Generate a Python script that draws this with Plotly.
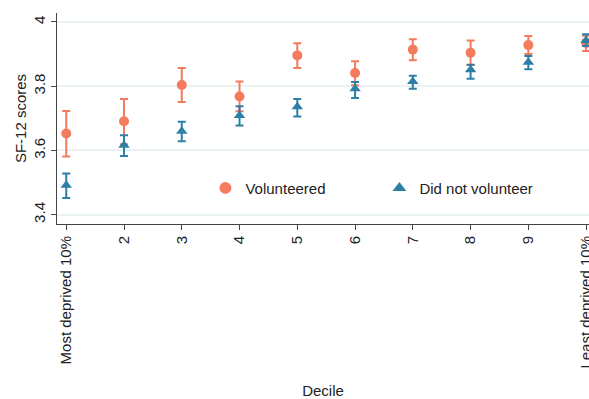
import plotly.graph_objects as go

deciles = [1, 2, 3, 4, 5, 6, 7, 8, 9, 10]
tick_labels = ["Most deprived 10%", "2", "3", "4", "5", "6", "7", "8", "9", "Least deprived 10%"]

vol_mean = [3.653, 3.691, 3.804, 3.768, 3.896, 3.841, 3.914, 3.904, 3.928, 3.935]
vol_hi = [3.723, 3.760, 3.857, 3.815, 3.934, 3.878, 3.946, 3.942, 3.956, 3.957]
vol_lo = [3.581, 3.619, 3.751, 3.722, 3.857, 3.803, 3.881, 3.866, 3.900, 3.910]

non_mean = [3.492, 3.616, 3.660, 3.709, 3.736, 3.792, 3.815, 3.851, 3.875, 3.942]
non_hi = [3.528, 3.647, 3.689, 3.738, 3.760, 3.813, 3.833, 3.867, 3.894, 3.962]
non_lo = [3.452, 3.583, 3.629, 3.678, 3.706, 3.763, 3.792, 3.823, 3.853, 3.925]

ORANGE = "#F47B5E"
BLUE = "#2D7FA6"
FONT = "Liberation Sans, Arial, sans-serif"


def err(mean, hi, lo):
    return dict(
        type="data",
        symmetric=False,
        array=[h - m for h, m in zip(hi, mean)],
        arrayminus=[m - l for m, l in zip(mean, lo)],
        width=4,
        thickness=2,
    )


fig = go.Figure()
fig.add_trace(go.Scatter(
    x=deciles, y=vol_mean, mode="markers", name="Volunteered",
    marker=dict(symbol="circle", size=10, color=ORANGE),
    error_y=dict(color=ORANGE, **err(vol_mean, vol_hi, vol_lo)),
    cliponaxis=True,
))
fig.add_trace(go.Scatter(
    x=deciles, y=non_mean, mode="markers", name="Did not volunteer",
    marker=dict(symbol="triangle-up", size=10, color=BLUE),
    error_y=dict(color=BLUE, **err(non_mean, non_hi, non_lo)),
    cliponaxis=True,
))

fig.update_layout(
    width=589, height=399,
    margin=dict(l=57, r=0, t=13, b=175),
    paper_bgcolor="white", plot_bgcolor="white",
    font=dict(family=FONT, size=15, color="#222222"),
    showlegend=True,
    legend=dict(
        orientation="h", x=0.279, y=0.17, xanchor="left", yanchor="middle",
        bgcolor="rgba(0,0,0,0)", font=dict(size=15, color="#222222"),
        entrywidth=129, itemsizing="constant",
    ),
    xaxis=dict(
        range=[0.84, 10.05], tickmode="array", tickvals=deciles, ticktext=tick_labels,
        tickangle=-90, ticks="outside", ticklen=5, tickcolor="#444444",
        showline=True, linecolor="#444444", linewidth=1, showgrid=False, zeroline=False,
        tickfont=dict(size=15), ticklabeloverflow="allow",
        title=dict(text="Decile", font=dict(size=15), standoff=26),
        automargin=False,
    ),
    yaxis=dict(
        range=[3.371, 4.028], tickvals=[3.4, 3.6, 3.8, 4.0], ticktext=["3.4", "3.6", "3.8", "4"],
        tickangle=-90, ticks="outside", ticklen=5, tickcolor="#444444",
        showline=True, linecolor="#444444", linewidth=1,
        showgrid=True, gridcolor="#EAF2F3", gridwidth=1.5, zeroline=False,
        tickfont=dict(size=15),
        title=dict(text="SF-12 scores", font=dict(size=15), standoff=0),
        automargin=False,
    ),
)

fig.write_html("out.html")
